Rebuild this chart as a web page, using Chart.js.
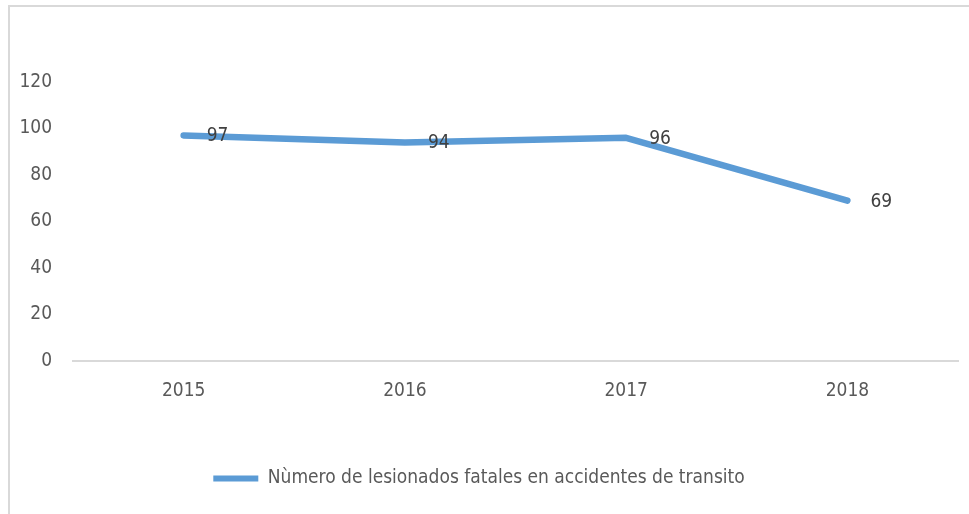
<!DOCTYPE html>
<html>
<head>
<meta charset="utf-8">
<script src="https://cdn.jsdelivr.net/npm/chart.js@4.4.0/dist/chart.umd.min.js"></script>
<style>
    html, body { margin: 0; padding: 0; background: #fff; overflow: hidden; }
    #wrap { position: relative; width: 969px; height: 514px; overflow: hidden; }
    #frame { position: absolute; left: 8px; top: 5px; width: 1000px; height: 600px; border-left: 2px solid #d9d9d9; border-top: 2px solid #d9d9d9; }
    canvas { position: absolute; left: 0; top: 0; }
</style>
</head>
<body>
<div id="wrap">
    <div id="frame"></div>
    <canvas id="chart" width="969" height="514"></canvas>
</div>
<script>
// --- Data ---
const years = ['2015', '2016', '2017', '2018'];
const fatalities = [97, 94, 96, 69];
const yTicks = [0, 20, 40, 60, 80, 100, 120];
const seriesName = 'Nùmero de lesionados fatales en accidentes de transito';

const FONT = "'DejaVu Sans Condensed', 'Liberation Sans', Arial, sans-serif";
const SIZE = 19;
const BLUE = '#5b9bd5';
const TEXT = '#595959';

// value labels to the right of each point
const pointLabels = {
    id: 'pointLabels',
    afterDatasetsDraw(chart) {
        const ctx = chart.ctx;
        const meta = chart.getDatasetMeta(0);
        ctx.save();
        ctx.font = SIZE + 'px ' + FONT;
        ctx.fillStyle = '#404040';
        ctx.textAlign = 'left';
        ctx.textBaseline = 'middle';
        meta.data.forEach((pt, i) => {
            ctx.fillText(String(fatalities[i]), pt.x + 23, pt.y + 1);
        });
        ctx.restore();
    }
};

new Chart(document.getElementById('chart').getContext('2d'), {
    type: 'line',
    data: {
        labels: years,
        datasets: [{
            label: seriesName,
            data: fatalities,
            borderColor: BLUE,
            backgroundColor: BLUE,
            borderWidth: 6.5,
            borderCapStyle: 'round',
            borderJoinStyle: 'round',
            pointRadius: 0,
            tension: 0,
            fill: false
        }]
    },
    options: {
        responsive: false,
        animation: false,
        layout: { padding: { top: 82, right: 11, bottom: 16, left: 0 } },
        plugins: {
            tooltip: { enabled: false },
            legend: {
                position: 'bottom',
                labels: {
                    font: { family: FONT, size: SIZE },
                    color: TEXT,
                    boxWidth: 45,
                    boxHeight: 6,
                    padding: 10,
                    generateLabels: (chart) => [{
                        text: seriesName,
                        fillStyle: BLUE,
                        strokeStyle: BLUE,
                        lineWidth: 0,
                        fontColor: TEXT,
                        datasetIndex: 0
                    }]
                }
            }
        },
        scales: {
            x: {
                offset: true,
                grid: { display: false, drawTicks: false },
                border: { display: true, color: '#d9d9d9', width: 2 },
                ticks: { color: TEXT, font: { family: FONT, size: SIZE }, padding: 19 },
                afterFit: (scale) => { scale.height = 98; }
            },
            y: {
                min: 0,
                max: 120,
                grid: { display: false, drawTicks: false },
                border: { display: false },
                afterBuildTicks: (scale) => { scale.ticks = yTicks.map(v => ({ value: v })); },
                ticks: { color: TEXT, font: { family: FONT, size: SIZE }, padding: 21 },
                afterFit: (scale) => { scale.width = 73; }
            }
        }
    },
    plugins: [pointLabels]
});
</script>
</body>
</html>
